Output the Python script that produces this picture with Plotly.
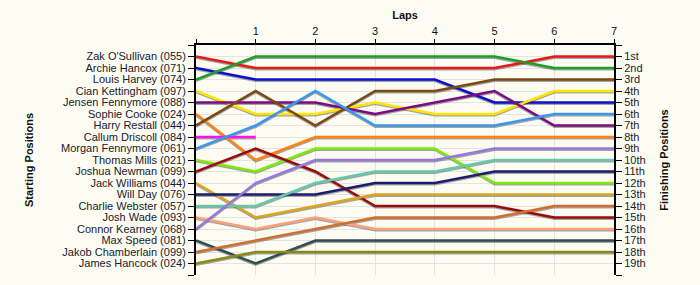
import plotly.graph_objects as go

laps = [0, 1, 2, 3, 4, 5, 6, 7]
lap_labels = ["", "1", "2", "3", "4", "5", "6", "7"]

drivers = [
    "Zak O'Sullivan (055)", "Archie Hancox (071)", "Louis Harvey (074)",
    "Cian Kettingham (097)", "Jensen Fennymore (088)", "Sophie Cooke (024)",
    "Harry Restall (044)", "Callum Driscoll (084)", "Morgan Fennymore (061)",
    "Thomas Mills (021)", "Joshua Newman (099)", "Jack Williams (044)",
    "Will Day (076)", "Charlie Webster (057)", "Josh Wade (093)",
    "Connor Kearney (068)", "Max Speed (081)", "Jakob Chamberlain (099)",
    "James Hancock (024)",
]

finish_labels = ["1st", "2nd", "3rd", "4th", "5th", "6th", "7th", "8th", "9th",
                 "10th", "11th", "12th", "13th", "14th", "15th", "16th", "17th",
                 "18th", "19th"]

# positions per lap (lap 0 = start)
zak = [1, 2, 2, 2, 2, 2, 1, 1]
archie = [2, 3, 3, 3, 3, 5, 5, 5]
louis = [3, 1, 1, 1, 1, 1, 2, 2]
cian = [4, 6, 6, 5, 6, 6, 4, 4]
jensen = [5, 5, 5, 6, 5, 4, 7, 7]
sophie = [6, 10, 8, 8, 8, 8, 8, 8]
harry = [7, 4, 7, 4, 4, 3, 3, 3]
callum = [8, 8, None, None, None, None, None, None]
morgan = [9, 7, 4, 7, 7, 7, 6, 6]
thomas = [10, 11, 9, 9, 9, 12, 12, 12]
joshua = [11, 9, 11, 14, 14, 14, 15, 15]
jack = [12, 15, 14, 13, 13, 13, 13, 13]
will = [13, 13, 13, 12, 12, 11, 11, 11]
charlie = [14, 14, 12, 11, 11, 10, 10, 10]
joshw = [15, 16, 15, 16, 16, 16, 16, 16]
connor = [16, 12, 10, 10, 10, 9, 9, 9]
max_s = [17, 19, 17, 17, 17, 17, 17, 17]
jakob = [18, 17, 16, 15, 15, 15, 14, 14]
james = [19, 18, 18, 18, 18, 18, 18, 18]

series = [zak, archie, louis, cian, jensen, sophie, harry, callum, morgan,
          thomas, joshua, jack, will, charlie, joshw, connor, max_s, jakob, james]

colors = ["#E81818", "#0A10D0", "#1E9E28", "#FFE600", "#7D0A85", "#FF8214",
          "#7B4A14", "#FF10F0", "#3A96F0", "#7CEB0A", "#9A0A0A", "#DAA520",
          "#1C1C72", "#66C8AA", "#FFA07A", "#9678DC", "#2F4F4F", "#D26E2D",
          "#8B8A14"]

bg = "#FCFCF3"
grid = "#E4E4E4"
fig = go.Figure()

shadow_dy = 0.11
for name, ys in zip(drivers, series):
    sy = [None if v is None else v + shadow_dy for v in ys]
    fig.add_trace(go.Scatter(x=laps, y=sy, mode="lines",
                             line=dict(color="rgba(60,60,60,0.45)", width=2.5),
                             hoverinfo="skip", showlegend=False))

for name, ys, c in zip(drivers, series, colors):
    fig.add_trace(go.Scatter(x=laps, y=ys, mode="lines", name=name,
                             line=dict(color=c, width=2.5),
                             showlegend=False))

# invisible trace to anchor the right axis
fig.add_trace(go.Scatter(x=[laps[-1]] * len(finish_labels),
                         y=list(range(1, len(finish_labels) + 1)),
                         yaxis="y2", mode="markers", marker=dict(opacity=0),
                         hoverinfo="skip", showlegend=False))

font_family = "Liberation Sans, Arial, sans-serif"
tickvals_y = list(range(0, 21))
left_text = [""] + drivers + [""]
right_text = [""] + finish_labels + [""]

fig.update_layout(
    width=700, height=285,
    margin=dict(l=196, r=86, t=45, b=10),
    paper_bgcolor=bg, plot_bgcolor=bg,
    font=dict(family=font_family, size=11, color="#111111"),
    hovermode=False,
    xaxis=dict(
        side="top", range=[0, 7], tickvals=laps, ticktext=lap_labels,
        showgrid=True, gridcolor=grid, gridwidth=1, zeroline=False,
        showline=True, linecolor="black", linewidth=2,
        ticks="outside", ticklen=4, tickcolor="black", tickwidth=1,
        tickfont=dict(size=11),
        title=dict(text="<b>Laps</b>", font=dict(size=11), standoff=3),
    ),
    yaxis=dict(
        range=[20, 0], tickvals=tickvals_y, ticktext=left_text,
        showgrid=True, gridcolor=grid, gridwidth=1, zeroline=False,
        showline=True, linecolor="black", linewidth=2,
        ticks="outside", ticklen=6, tickcolor="black", tickwidth=1,
        tickfont=dict(size=11, color="#1a1a2a"),
        title=dict(text="<b>Starting Positions</b>", font=dict(size=11), standoff=25),
    ),
    yaxis2=dict(
        overlaying="y", side="right", range=[20, 0], tickvals=tickvals_y,
        ticktext=right_text, showgrid=False, zeroline=False,
        showline=True, linecolor="black", linewidth=2,
        ticks="outside", ticklen=6, tickcolor="black", tickwidth=1,
        tickfont=dict(size=11, color="#1a1a2a"),
        title=dict(text="<b>Finishing Positions</b>", font=dict(size=11), standoff=16),
    ),
)

fig.write_html("out.html")
